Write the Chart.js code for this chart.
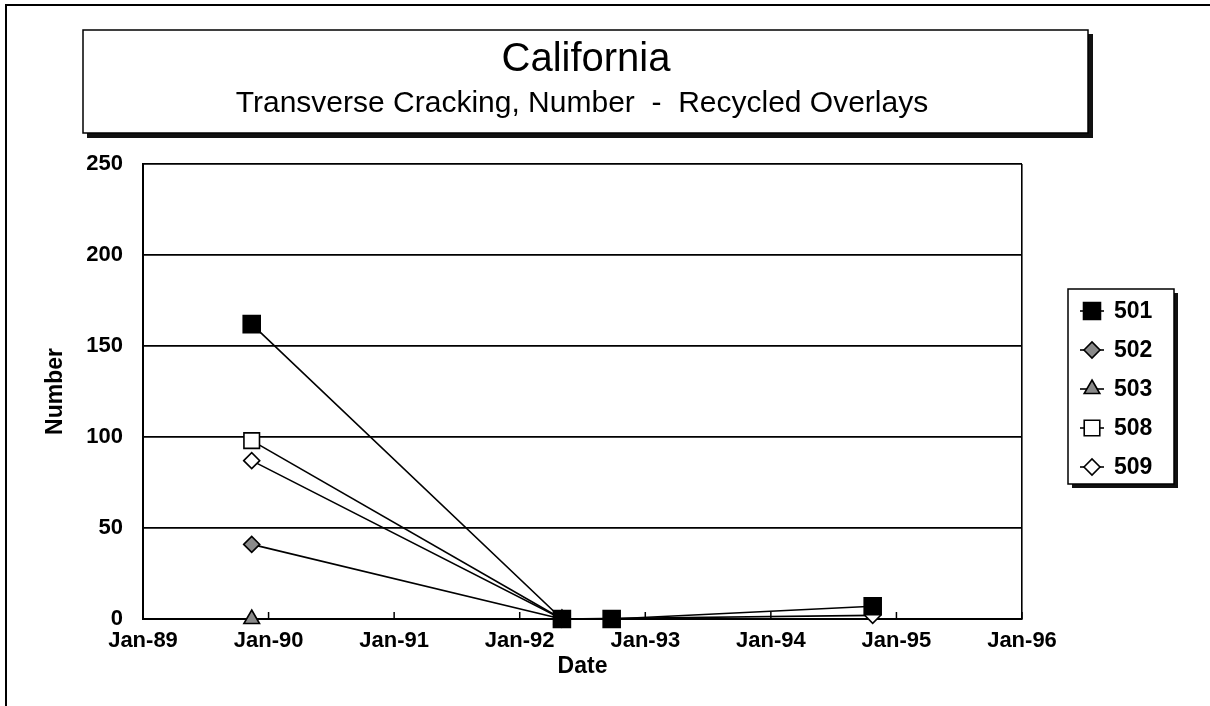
<!DOCTYPE html>
<html>
<head>
<meta charset="utf-8">
<script src="https://cdn.jsdelivr.net/npm/chart.js@4"></script>
<style>
  html, body { margin: 0; padding: 0; background: #fff; }
  #wrap { width: 1210px; height: 706px; position: relative; }
</style>
</head>
<body>
<div id="wrap"><canvas id="chart"></canvas></div>
<script>
// chart data
const chartTitle = 'California';
const chartSubtitle = 'Transverse Cracking, Number  -  Recycled Overlays';
const surveyDates = ['1989-11-13', '1992-05-03', '1992-09-25', '1994-10-24'];
const seriesNames = ['501', '502', '503', '508', '509'];
const s501 = [162, 0, 0, 7];
const s502 = [41, 0, null, null];
const s503 = [0, 0, null, null];
const s508 = [98, 0, null, null];
const s509 = [87, 0, null, 2];
const xTickYears = [1989, 1990, 1991, 1992, 1993, 1994, 1995, 1996];
const xTickLabels = ['Jan-89', 'Jan-90', 'Jan-91', 'Jan-92', 'Jan-93', 'Jan-94', 'Jan-95', 'Jan-96'];
const yTicks = [0, 50, 100, 150, 200, 250];

const FONT = "'Liberation Sans', Arial, sans-serif";

// date string -> fractional year, so a linear axis can hold it
function toYear(s) {
  const d = Date.parse(s + 'T00:00:00Z');
  const y = new Date(d).getUTCFullYear();
  const a = Date.UTC(y, 0, 1), b = Date.UTC(y + 1, 0, 1);
  return y + (d - a) / (b - a);
}

function points(values) {
  const out = [];
  values.forEach((v, i) => { if (v !== null) out.push({ x: toYear(surveyDates[i]), y: v }); });
  return out;
}

const markers = [
  { pointStyle: 'rect', radius: 12, fill: '#000' },
  { pointStyle: 'rectRot', radius: 8, fill: '#8a8a8a' },
  { pointStyle: 'triangle', radius: 9, fill: '#8a8a8a' },
  { pointStyle: 'rect', radius: 11, fill: '#fff' },
  { pointStyle: 'rectRot', radius: 8, fill: '#fff' }
];
const allSeries = [s501, s502, s503, s508, s509];

const datasets = allSeries.map((vals, i) => ({
  label: seriesNames[i],
  data: points(vals),
  borderColor: '#000',
  borderWidth: 1.6,
  tension: 0,
  clip: false,
  pointStyle: markers[i].pointStyle,
  pointRadius: markers[i].radius,
  pointBackgroundColor: markers[i].fill,
  pointBorderColor: '#000',
  pointBorderWidth: 1.6
}));

// title box, outer frame, legend box and inner tick marks
const decor = {
  id: 'decor',
  beforeDraw(chart) {
    const ctx = chart.ctx;
    ctx.save();
    ctx.fillStyle = '#fff';
    ctx.fillRect(0, 0, chart.width, chart.height);
    ctx.strokeStyle = '#000';
    ctx.lineWidth = 2;
    ctx.beginPath();
    ctx.moveTo(6, chart.height);
    ctx.lineTo(6, 5);
    ctx.lineTo(chart.width, 5);
    ctx.stroke();

    // title box with shadow
    ctx.fillStyle = '#111';
    ctx.fillRect(87, 34, 1006, 104);
    ctx.fillStyle = '#fff';
    ctx.fillRect(83, 30, 1005, 103);
    ctx.lineWidth = 1.5;
    ctx.strokeRect(83, 30, 1005, 103);
    ctx.fillStyle = '#000';
    ctx.textAlign = 'center';
    ctx.textBaseline = 'middle';
    ctx.font = '40px ' + FONT;
    ctx.fillText(chartTitle, 586, 60);
    ctx.font = '30px ' + FONT;
    ctx.fillText(chartSubtitle, 582, 104);
    ctx.restore();
  },
  afterDraw(chart) {
    const ctx = chart.ctx;
    const area = chart.chartArea;
    const xs = chart.scales.x;
    ctx.save();
    ctx.strokeStyle = '#000';
    ctx.lineWidth = 1.5;
    // small ticks pointing into the plot
    xTickYears.forEach(v => {
      const px = xs.getPixelForValue(v);
      ctx.beginPath();
      ctx.moveTo(px, area.bottom);
      ctx.lineTo(px, area.bottom - 7);
      ctx.stroke();
    });

    // legend
    const lx = 1068, ly = 289, lw = 106, lh = 195;
    ctx.fillStyle = '#111';
    ctx.fillRect(lx + 4, ly + 4, lw, lh);
    ctx.fillStyle = '#fff';
    ctx.fillRect(lx, ly, lw, lh);
    ctx.lineWidth = 1.5;
    ctx.strokeRect(lx, ly, lw, lh);
    ctx.font = 'bold 23px ' + FONT;
    ctx.textAlign = 'left';
    ctx.textBaseline = 'middle';
    chart.data.datasets.forEach((ds, i) => {
      const y = 311 + i * 39;
      const mx = 1092;
      ctx.strokeStyle = '#000';
      ctx.lineWidth = 1.6;
      ctx.beginPath();
      ctx.moveTo(mx - 12, y);
      ctx.lineTo(mx + 12, y);
      ctx.stroke();
      ctx.fillStyle = ds.pointBackgroundColor;
      ctx.strokeStyle = '#000';
      Chart.helpers.drawPoint(ctx, {
        pointStyle: ds.pointStyle,
        radius: ds.pointRadius,
        borderWidth: ds.pointBorderWidth,
        rotation: 0
      }, mx, y);
      ctx.fillStyle = '#000';
      ctx.fillText(ds.label, 1114, y + 1);
    });
    ctx.restore();
  }
};

Chart.defaults.font.family = FONT;
Chart.defaults.color = '#000';

new Chart(document.getElementById('chart'), {
  type: 'line',
  data: { datasets },
  options: {
    responsive: true,
    maintainAspectRatio: false,
    animation: false,
    layout: { padding: { left: 30, right: 188, top: 164, bottom: 0 } },
    plugins: {
      legend: { display: false },
      tooltip: { enabled: false },
      title: { display: false }
    },
    scales: {
      x: {
        type: 'linear',
        min: 1989,
        max: 1996,
        afterFit(scale) { scale.height = 87; },
        afterBuildTicks(scale) { scale.ticks = xTickYears.map(v => ({ value: v })); },
        ticks: {
          autoSkip: false,
          maxRotation: 0,
          padding: 9,
          font: { size: 22, weight: 'bold' },
          callback: (v) => xTickLabels[xTickYears.indexOf(v)] || ''
        },
        grid: {
          drawTicks: false,
          lineWidth: 1.6,
          color: (c) => (c.tick && c.tick.value === 1996 ? '#000' : 'rgba(0,0,0,0)')
        },
        border: { display: true, color: '#000', width: 2 },
        title: {
          display: true,
          text: 'Date',
          font: { size: 23, weight: 'bold' },
          padding: { top: 0, bottom: 26 }
        }
      },
      y: {
        min: 0,
        max: 250,
        afterFit(scale) { scale.width = 113; },
        afterBuildTicks(scale) { scale.ticks = yTicks.map(v => ({ value: v })); },
        ticks: {
          padding: 20,
          font: { size: 22, weight: 'bold' }
        },
        grid: { drawTicks: false, color: '#000', lineWidth: 1.8 },
        border: { display: true, color: '#000', width: 2 },
        title: {
          display: true,
          text: 'Number',
          font: { size: 23, weight: 'bold' },
          padding: { top: 12, bottom: 0 }
        }
      }
    }
  },
  plugins: [decor]
});
</script>
</body>
</html>
